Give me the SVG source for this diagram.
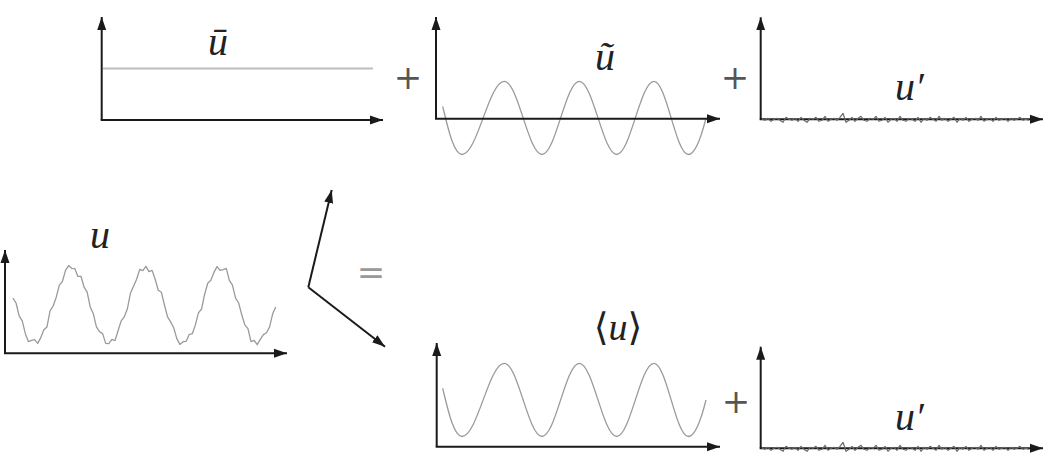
<svg xmlns="http://www.w3.org/2000/svg" xmlns:xlink="http://www.w3.org/1999/xlink" width="1052" height="462" viewBox="0 0 1052 462">
<style>
.ax{stroke:#1a1a1a;stroke-width:2;fill:none;marker-end:url(#ah)}
.wave{stroke:#9a9a9a;stroke-width:1.3;fill:none;stroke-linejoin:round}
.noise{stroke:#6a6a6a;stroke-width:1.2;fill:none;stroke-linejoin:round}
.con{stroke:#1a1a1a;stroke-width:2;fill:none;marker-end:url(#ah)}
</style>
<defs>
<marker id="ah" markerUnits="userSpaceOnUse" markerWidth="14" markerHeight="10" viewBox="0 0 14 10" refX="13" refY="5" orient="auto">
<path d="M0,0.5 L13,5 L0,9.5 z" fill="#1a1a1a"/>
</marker>
<path id="sine" d="M442.7,388.3 C447.5,408 453.5,436.5 462,436.5 C477.4,436.5 488.9,363.3 504.3,363.3 C518,363.3 528.3,436.5 542,436.5 C555.6,436.5 565.7,363.3 579.3,363.3 C592.9,363.3 603.1,436.5 616.7,436.5 C630.3,436.5 640.4,363.3 654,363.3 C666.5,363.3 675.8,436.5 688.3,436.5 C696,436.5 702,416 706,400"/>
<polyline id="noise" points="762,0 765,1 768,-1 771,2 774,0 777,-1 780,1 783,3 786,-2 789,0 792,1 795,-1 798,2 801,-2 804,1 807,3 810,-1 813,0 816,-2 819,2 822,1 825,-3 828,2 831,0 834,-1 837,1 840,-2 843,-6 846,3 849,1 852,-2 855,2 858,-1 861,-3 864,1 867,2 870,-1 873,0 876,-3 879,2 882,1 885,-2 888,3 891,0 894,-1 897,2 900,-3 903,1 906,2 909,-1 912,0 915,2 918,-2 921,3 924,-1 927,1 930,-2 933,0 936,2 939,-3 942,1 945,-1 948,2 951,0 954,-2 957,3 960,-1 963,1 966,-2 969,2 972,0 975,-1 978,1 981,-3 984,2 987,0 990,-1 993,2 996,-2 999,1 1002,0 1005,-1 1008,2 1011,-1 1014,1 1017,0 1020,-2 1023,1 1026,0 1029,1"/>
</defs>
<rect width="1052" height="462" fill="#fff"/>

<g id="plot-ubar">
<line x1="103" y1="68.5" x2="373" y2="68.5" stroke="#bdbdbd" stroke-width="2"/>
<line class="ax" x1="101.7" y1="120" x2="101.7" y2="17"/>
<line class="ax" x1="100.7" y1="120" x2="383" y2="120"/>
<text x="218" y="55" text-anchor="middle" font-family="'Liberation Serif', serif" font-style="italic" font-size="40" fill="#222">ū</text>
</g>

<g id="plus-1"><text x="408" y="89" text-anchor="middle" font-family="'DejaVu Serif', serif" font-size="34" fill="#555">+</text></g>

<g id="plot-utilde">
<use xlink:href="#sine" class="wave" transform="translate(0,-282)"/>
<line class="ax" x1="436" y1="118.7" x2="436" y2="17"/>
<line class="ax" x1="435" y1="118.7" x2="720" y2="118.7"/>
<text x="605" y="70" text-anchor="middle" font-family="'Liberation Serif', serif" font-style="italic" font-size="40" fill="#222">ũ</text>
</g>

<g id="plus-2"><text x="735" y="89" text-anchor="middle" font-family="'DejaVu Serif', serif" font-size="34" fill="#555">+</text></g>

<g id="plot-uprime-top">
<line class="ax" x1="760.7" y1="119.3" x2="760.7" y2="17.3"/>
<line class="ax" x1="759.7" y1="119.3" x2="1043" y2="119.3"/>
<use xlink:href="#noise" class="noise" transform="translate(0,119.3)"/>
<text x="895" y="100" font-family="'Liberation Serif', serif" font-style="italic" font-size="40" fill="#222">u′</text>
</g>

<g id="plot-u">
<polyline class="wave" points="12.96,298.2 16.05,303 19.14,315.8 22.24,320.9 25.33,333.7 28.42,341.6 31.51,340.4 34.6,339.7 37.69,343.4 40.79,337.6 43.88,329.7 46.97,326.9 50.06,310.8 53.15,306 56.24,297.2 59.34,285.2 62.43,281.3 65.52,270.4 68.61,265.6 71.7,268.3 74.79,268.6 77.89,276.4 80.98,276.3 84.07,287.2 87.16,292.2 90.25,307 93.34,313.8 96.44,326.9 99.53,331.7 102.62,333.6 105.71,343.4 108.8,343.7 111.89,339.4 114.99,340.6 118.08,330.7 121.17,320.9 124.26,316.8 127.35,309 130.44,293.2 133.54,286.2 136.63,279.3 139.72,269.4 142.81,270.6 145.9,266.3 148.99,271.6 152.09,270.4 155.18,279.3 158.27,290.2 161.36,292.2 164.45,305 167.55,316.8 170.64,321.9 173.73,327.7 176.82,338.6 179.91,344.4 183,341.7 186.1,341.4 189.19,334.6 192.28,333.7 195.37,324.9 198.46,312.8 201.55,309 204.65,294.2 207.74,283.2 210.83,280.3 213.92,272.4 217.01,266.6 220.1,270.3 223.2,269.6 226.29,268.4 229.38,280.3 232.47,285.2 235.56,298.2 238.65,303 241.75,314.8 244.84,324.9 247.93,328.7 251.02,341.6 254.11,340.4 257.2,344.7 260.3,339.4 263.39,334.6 266.48,332.7 269.57,326.9 272.66,313.8 275.75,307"/>
<line class="ax" x1="5" y1="353.3" x2="5" y2="250"/>
<line class="ax" x1="4" y1="353.3" x2="287" y2="353.3"/>
<text x="100" y="248" text-anchor="middle" font-family="'Liberation Serif', serif" font-style="italic" font-size="40" fill="#222">u</text>
</g>

<g id="equals"><text x="371" y="284" text-anchor="middle" font-family="'DejaVu Serif', serif" font-size="34" fill="#999">=</text></g>

<g id="connectors">
<line class="con" x1="308.3" y1="287.3" x2="331.7" y2="190"/>
<line class="con" x1="308.3" y1="287.3" x2="385" y2="346.7"/>
</g>

<g id="plot-uavg">
<use xlink:href="#sine" class="wave"/>
<line class="ax" x1="436.7" y1="446.7" x2="436.7" y2="343"/>
<line class="ax" x1="435.7" y1="446.7" x2="720" y2="446.7"/>
<text x="618" y="340" text-anchor="middle" font-family="'Liberation Serif', 'DejaVu Serif', serif" font-size="38" fill="#222">⟨<tspan font-style="italic">u</tspan>⟩</text>
</g>

<g id="plus-3"><text x="736" y="413" text-anchor="middle" font-family="'DejaVu Serif', serif" font-size="34" fill="#555">+</text></g>

<g id="plot-uprime-bottom">
<line class="ax" x1="760.7" y1="448.3" x2="760.7" y2="346.7"/>
<line class="ax" x1="759.7" y1="448.3" x2="1043" y2="448.3"/>
<use xlink:href="#noise" class="noise" transform="translate(0,448.3)"/>
<text x="895" y="430" font-family="'Liberation Serif', serif" font-style="italic" font-size="40" fill="#222">u′</text>
</g>
</svg>
